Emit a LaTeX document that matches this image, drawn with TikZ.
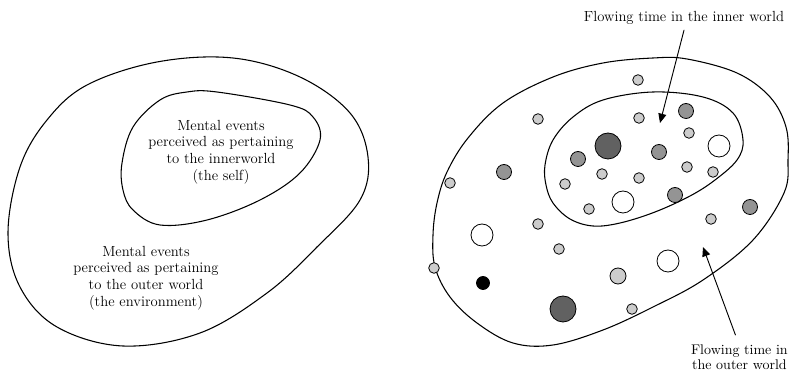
\documentclass[tikz,border=0pt]{standalone}
\usetikzlibrary{arrows.meta}
\definecolor{dotlight}{gray}{0.80}
\definecolor{dotmid}{gray}{0.58}
\definecolor{dotdark}{gray}{0.38}
\begin{document}
\begin{tikzpicture}[x=0.75pt,y=-0.75pt,line cap=round,line join=round,>={Triangle[length=7pt,width=6pt]},font=\fontsize{11}{12.5}\selectfont]
            \tikzset{lbl/.style={align=center,inner sep=0pt},
                region/.style={line width=0.8pt,smooth cycle,tension=0.6},
                dot/.style={draw,line width=0.6pt}
            }
            \useasboundingbox (0,0) rectangle (789,373);
            % left picture
            \draw[region] plot coordinates {(87,85) (157,62) (233,58) (300,77) (350,113) (368,157) (360,200) (317,247) (267,293) (200,333) (123,346) (57,327) (20,287) (8,233) (20,167) (47,120)};
            \draw[region] plot coordinates {(217,92) (290,105) (313,117) (320,140) (300,173) (260,200) (207,220) (160,225) (133,210) (123,190) (122,163) (133,127) (160,100) (187,92)};
            \node[lbl] (self) at (221,152) {Mental events\\perceived as pertaining\\to the innerworld\\(the self)};
            \node[lbl] (env) at (146,278) {Mental events\\perceived as pertaining\\to the outer world\\(the environment)};
            % right picture
            \draw[region] plot coordinates {(447,172) (468,138) (503,103) (553,77) (603,63) (653,58) (687,59) (737,73) (770,97) (786,127) (788,160) (784,193) (753,240) (703,280) (653,307) (603,330) (553,345) (513,343) (477,323) (450,297) (435,267) (433,235) (437,203)};
            \draw[region] plot coordinates {(653,92) (703,97) (733,113) (743,140) (737,160) (715,180) (690,196) (655,212) (620,223) (593,226) (570,219) (553,203) (546,185) (545,165) (553,140) (573,117) (603,100)};
            \foreach \px/\py/\r/\c in {638/80/5.3/dotlight,538/119/5.3/dotlight,639/118/5.3/dotlight,686/111/7.5/dotmid,689/133/5.3/dotlight,
                608/146/13/dotdark,659/152/7.5/dotmid,719/146/11/white,578/159/7.5/dotmid,504/172/7.5/dotmid,602/174/5.3/dotlight,
                639/178/5.3/dotlight,687/167/5.3/dotlight,713/172/5.3/dotlight,450/183/5.3/dotlight,565/184/5.3/dotlight,
                623/202/11/white,675/195/7.5/dotmid,589/209/5.3/dotlight,750/207/7.5/dotmid,711/219/5.3/dotlight,538/224/5.3/dotlight,
                482/235/11/white,559/249/5.3/dotlight,668/261/11/white,618/276/8/dotlight,434/268/5.3/dotlight,483/283/6.5/black,
                563/309/13/dotdark,632/309/5.3/dotlight}
                \draw[dot,fill=\c] (\px,\py) circle (\r);
            \node[lbl] (inner) at (684,18) {Flowing time in the inner world};
            \node[lbl,anchor=east,font=\fontsize{10.5}{11.3}\selectfont] (outer) at (788,357) {Flowing time in\\the outer world};
            \coordinate (innertip) at (660,123);
            \coordinate (outertip) at (703,247);
            \draw[->,line width=0.7pt] ([yshift=-4pt]inner.south) -- (innertip);
            \draw[->,line width=0.7pt] ([shift={(-3pt,7pt)}]outer.north) -- (outertip);
    \end{tikzpicture}
\end{document}
